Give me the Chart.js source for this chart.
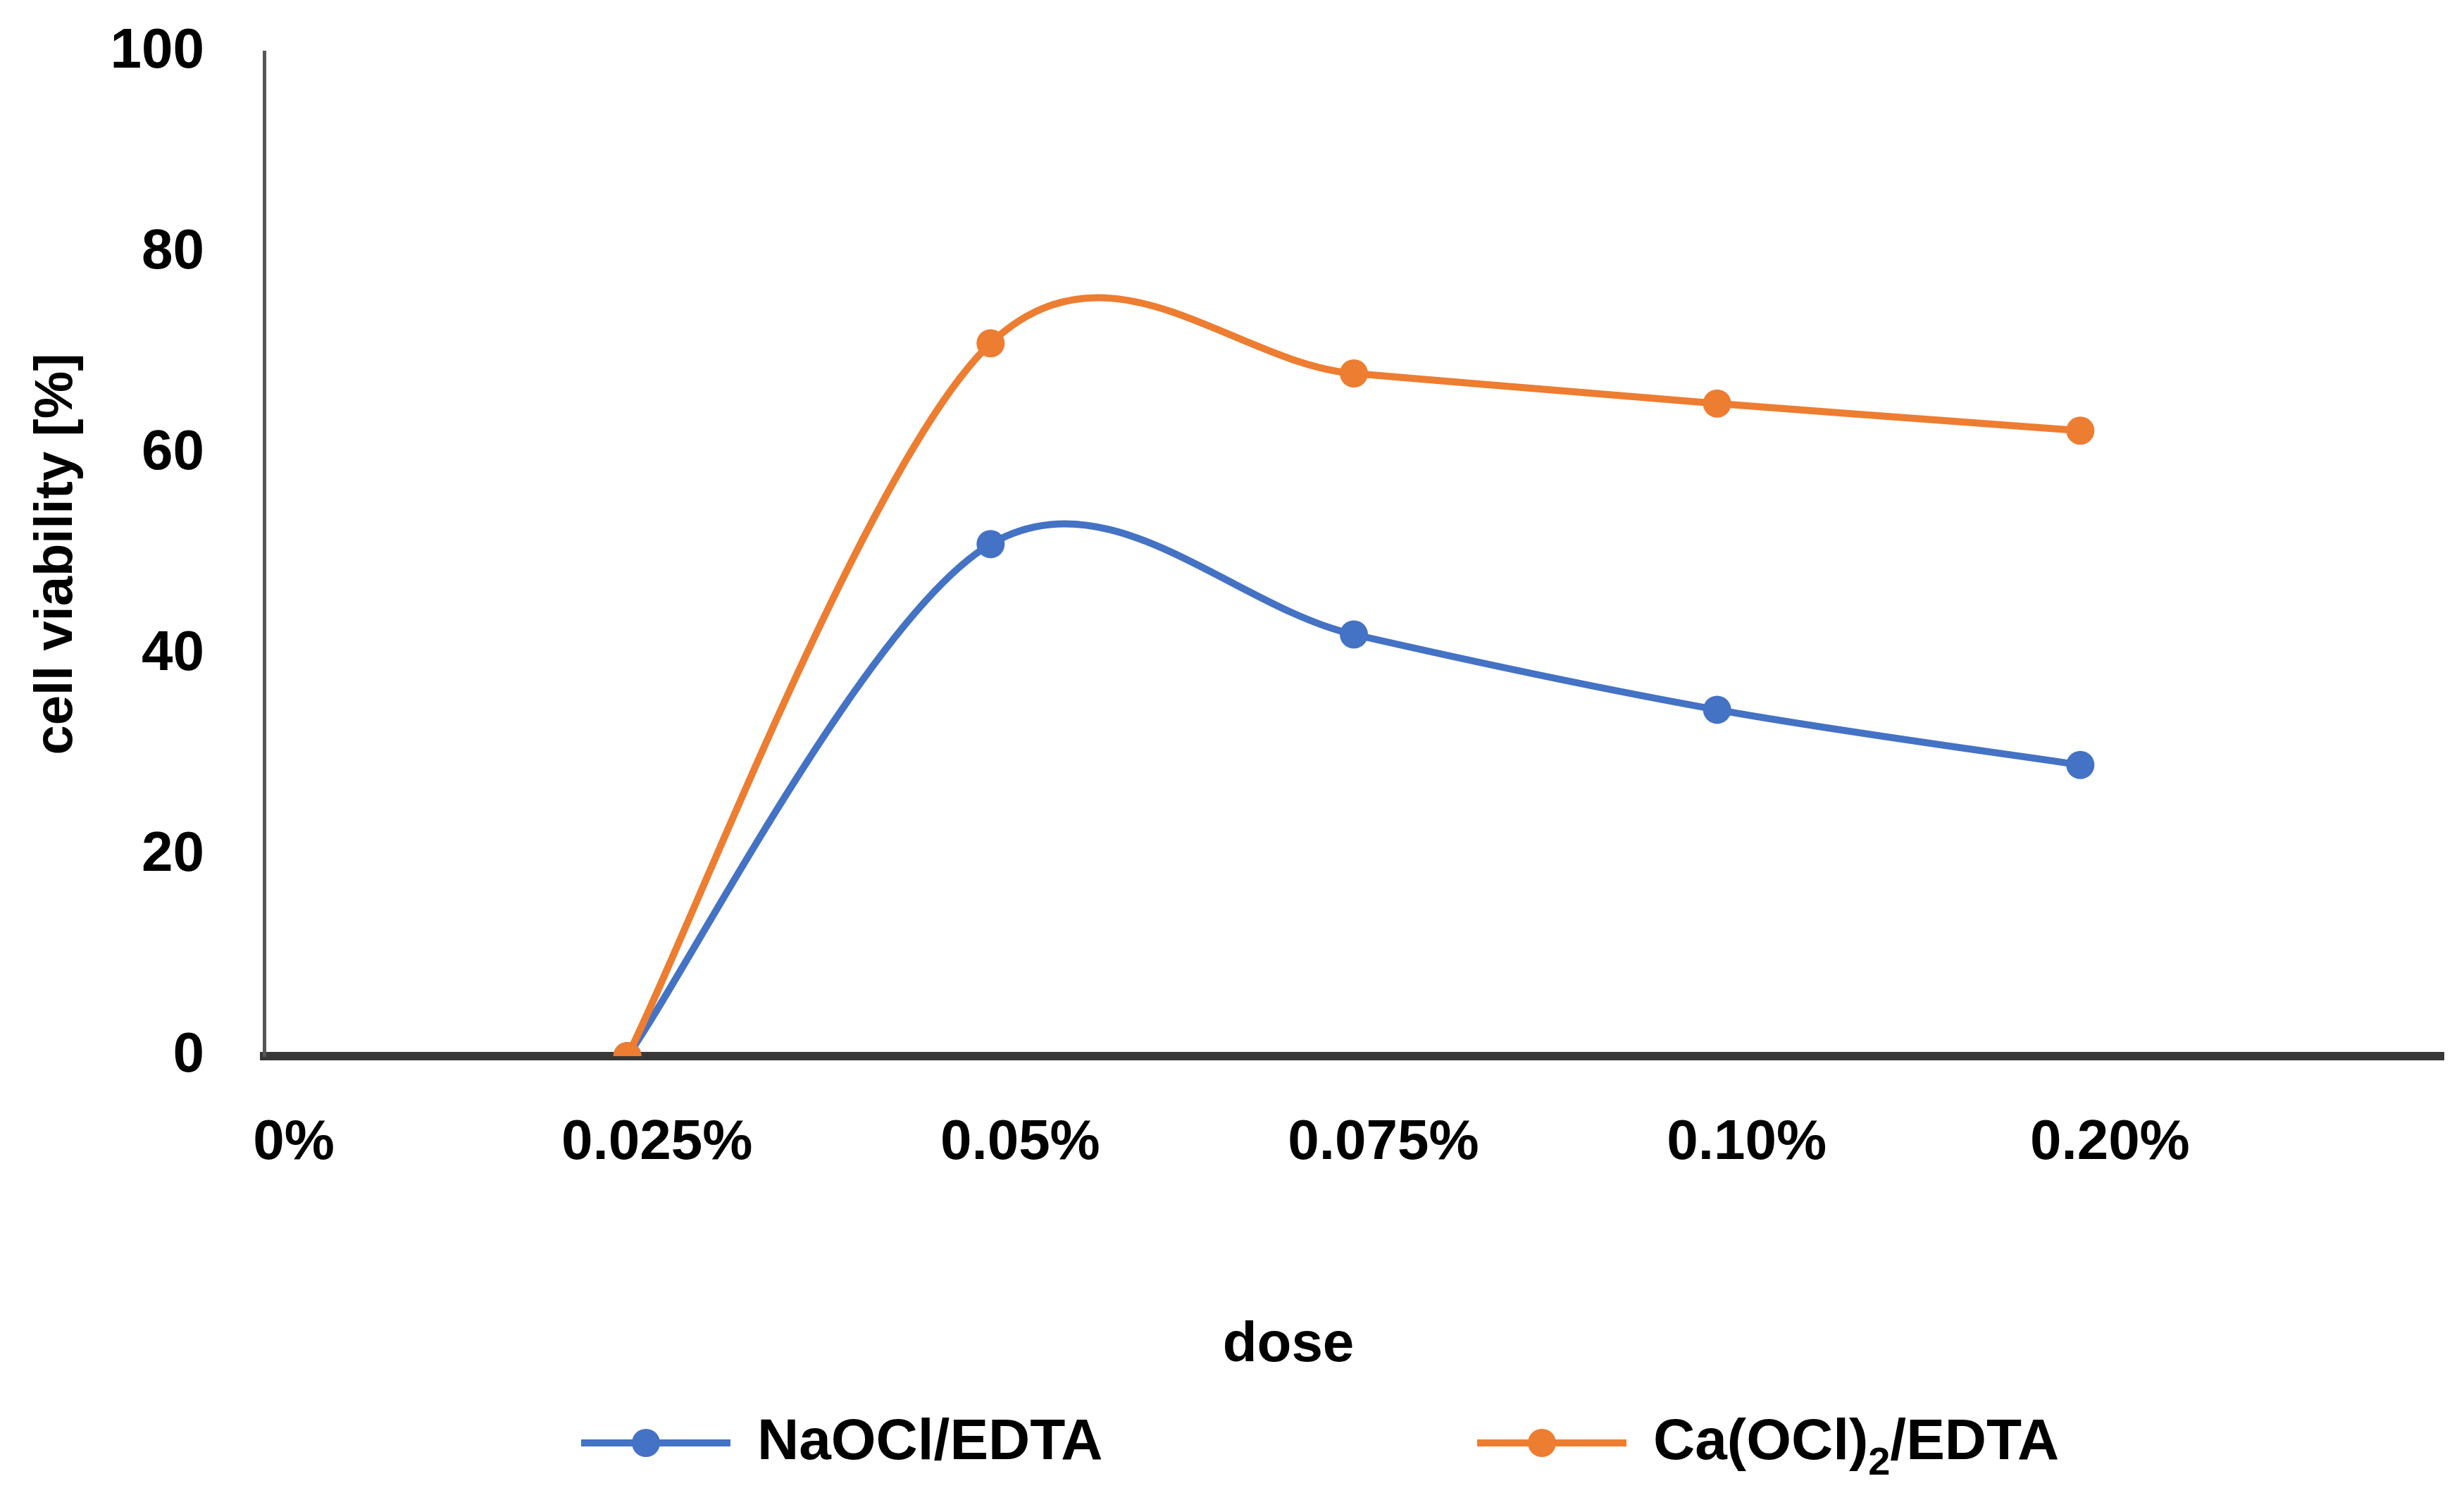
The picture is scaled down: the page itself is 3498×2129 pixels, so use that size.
<!DOCTYPE html>
<html lang="en">
<head>
<meta charset="UTF-8">
<title>cell viability vs dose</title>
<script src="https://cdn.jsdelivr.net/npm/chart.js@4"></script>
<style>
  html, body { margin: 0; padding: 0; background: #fff; }
  #wrap { width: 3498px; height: 2129px; }
</style>
</head>
<body>
<div id="wrap"><canvas id="myChart"></canvas></div>
<script>
// categories on the x axis (last one empty: the axis runs one step past 0.20%)
const doses = ['0%', '0.025%', '0.05%', '0.075%', '0.10%', '0.20%', ''];
// cell viability [%]
const naocl = [null, 0, 51, 42, 34.5, 29];
const caocl = [null, 0, 71, 68, 65, 62.3];
const seriesNames = ['NaOCl/EDTA', 'Ca(OCl)2/EDTA'];

const blue = '#4472C4';
const orange = '#ED7D31';
const FONT = '"Liberation Sans", Arial, sans-serif';

// spreadsheet-style smoothing: control points at +-1/6 of (next - prev)
const smooth = {
  id: 'smooth',
  beforeDatasetDraw(chart, args) {
    const line = args.meta.dataset;
    const pts = args.meta.data;
    const ok = i => pts[i] && !pts[i].skip;
    pts.forEach((p, i) => {
      if (!ok(i)) return;
      const prev = ok(i - 1) ? pts[i - 1] : p;
      const next = ok(i + 1) ? pts[i + 1] : p;
      const dx = (next.x - prev.x) / 6, dy = (next.y - prev.y) / 6;
      p.cp1x = p.x - dx; p.cp1y = p.y - dy;
      p.cp2x = p.x + dx; p.cp2y = p.y + dy;
    });
    line._pointsUpdated = true;
  }
};

// x axis title and legend, drawn as text on the canvas
const extras = {
  id: 'extras',
  afterDraw(chart) {
    const ctx = chart.ctx;
    ctx.save();
    ctx.fillStyle = '#000';
    ctx.font = 'bold 80px ' + FONT;
    ctx.textBaseline = 'middle';
    ctx.textAlign = 'center';
    ctx.fillText('dose', 1829, 1910);

    const y = 2048;
    const items = [
      { x: 825, color: blue, parts: [['NaOCl/EDTA', false]] },
      { x: 2097, color: orange, parts: [['Ca(OCl)', false], ['2', true], ['/EDTA', false]] }
    ];
    items.forEach(it => {
      ctx.strokeStyle = it.color;
      ctx.lineWidth = 10;
      ctx.beginPath();
      ctx.moveTo(it.x, y);
      ctx.lineTo(it.x + 212, y);
      ctx.stroke();
      ctx.fillStyle = it.color;
      ctx.beginPath();
      ctx.arc(it.x + 92, y, 20, 0, Math.PI * 2);
      ctx.fill();

      ctx.fillStyle = '#000';
      ctx.textAlign = 'left';
      let tx = it.x + 250;
      it.parts.forEach(([txt, sub]) => {
        if (sub) {
          ctx.font = 'bold 56px ' + FONT;
          ctx.fillText(txt, tx, y + 30);
        } else {
          ctx.font = 'bold 82px ' + FONT;
          ctx.fillText(txt, tx, y);
        }
        tx += ctx.measureText(txt).width;
      });
    });
    ctx.restore();
  }
};

new Chart(document.getElementById('myChart'), {
  type: 'line',
  data: {
    labels: doses,
    datasets: [
      {
        label: seriesNames[0],
        data: naocl,
        borderColor: blue,
        backgroundColor: blue,
        borderWidth: 10,
        pointRadius: 20,
        pointHoverRadius: 20,
        pointBorderWidth: 0,
        tension: 0.4,
        order: 1
      },
      {
        label: seriesNames[1],
        data: caocl,
        borderColor: orange,
        backgroundColor: orange,
        borderWidth: 10,
        pointRadius: 20,
        pointHoverRadius: 20,
        pointBorderWidth: 0,
        tension: 0.4,
        order: 0
      }
    ]
  },
  options: {
    responsive: true,
    maintainAspectRatio: false,
    animation: false,
    layout: { padding: { top: 74, right: 29, left: 0, bottom: 0 } },
    plugins: {
      legend: { display: false },
      tooltip: { enabled: false }
    },
    scales: {
      x: {
        offset: false,
        grid: { display: false, drawTicks: false },
        border: { display: true, color: '#383838', width: 12 },
        ticks: {
          color: '#000',
          font: { family: FONT, size: 80, weight: 'bold' },
          padding: 76,
          labelOffset: 42,
          maxRotation: 0,
          autoSkip: false
        },
        afterFit: s => {
          s.height = 2129 - 1499;
          s.paddingLeft = 0; s.paddingRight = 0;
        }
      },
      y: {
        min: 0,
        max: 100,
        grid: { display: false, drawTicks: false },
        border: { display: true, color: '#555', width: 5 },
        ticks: {
          stepSize: 20,
          color: '#000',
          font: { family: FONT, size: 80, weight: 'bold' },
          padding: 85
        },
        title: {
          display: true,
          text: 'cell viability [%]',
          color: '#000',
          font: { family: FONT, size: 76, weight: 'bold' },
          padding: { top: 35, bottom: 0 }
        },
        afterFit: s => {
          s.width = 375;
          s.paddingTop = 0; s.paddingBottom = 0;
        }
      }
    }
  },
  plugins: [smooth, extras]
});
</script>
</body>
</html>
